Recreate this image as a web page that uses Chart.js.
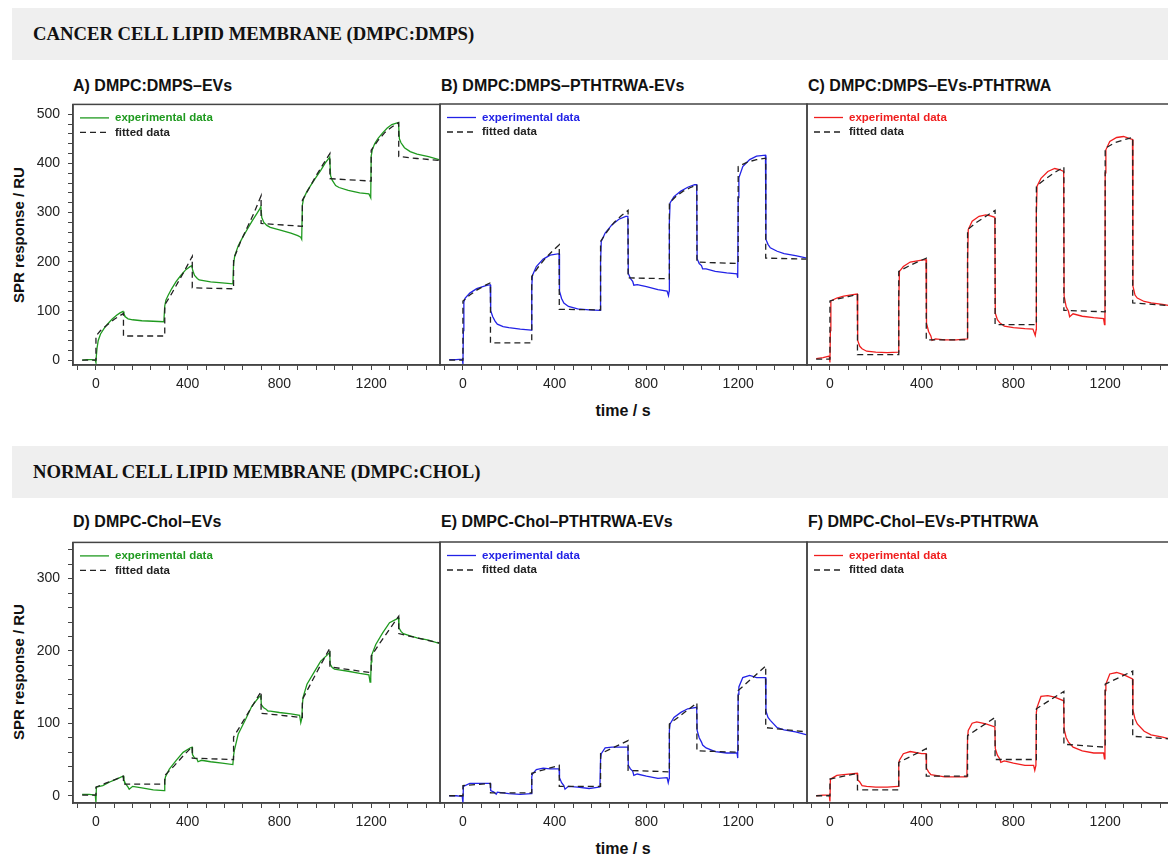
<!DOCTYPE html>
<html>
<head>
<meta charset="utf-8">
<script src="https://cdn.jsdelivr.net/npm/chart.js@4.4.0/dist/chart.umd.min.js"></script>
<style>
  body { margin: 0; width: 1168px; height: 857px; overflow: hidden; background: #fff; position: relative; font-family: Arial, "Liberation Sans", sans-serif; }
  .band { position: absolute; left: 12px; width: 1156px; height: 52px; background: #efefef; }
  .band span { position: absolute; left: 21px; top: 50%; transform: translateY(-50%); font: bold 18.7px "Liberation Serif", "Times New Roman", serif; color: #111; white-space: nowrap; }
  .ptitle { position: absolute; font: bold 16px Arial, "Liberation Sans", sans-serif; color: #111; line-height: 18px; white-space: nowrap; }
  .ytitle { position: absolute; left: 18px; font: bold 15px Arial, "Liberation Sans", sans-serif; color: #111; white-space: nowrap; transform: translate(-50%, -50%) rotate(-90deg); }
  .xtitle { position: absolute; left: 623px; font: bold 16px Arial, "Liberation Sans", sans-serif; color: #111; white-space: nowrap; transform: translate(-50%, -50%); }
  canvas { position: absolute; }
</style>
</head>
<body>
<div class="band" style="top:8px"><span>CANCER CELL LIPID MEMBRANE (DMPC:DMPS)</span></div>
<div class="band" style="top:446px"><span>NORMAL CELL LIPID MEMBRANE (DMPC:CHOL)</span></div>

<div class="ptitle" style="left:73px;top:77px">A) DMPC:DMPS–EVs</div>
<div class="ptitle" style="left:441px;top:77px">B) DMPC:DMPS–PTHTRWA-EVs</div>
<div class="ptitle" style="left:808px;top:77px">C) DMPC:DMPS–EVs-PTHTRWA</div>
<div class="ptitle" style="left:73px;top:513px">D) DMPC-Chol–EVs</div>
<div class="ptitle" style="left:441px;top:513px">E) DMPC-Chol–PTHTRWA-EVs</div>
<div class="ptitle" style="left:808px;top:513px">F) DMPC-Chol–EVs-PTHTRWA</div>

<div class="ytitle" style="top:235px">SPR response / RU</div>
<div class="ytitle" style="top:672px">SPR response / RU</div>
<div class="xtitle" style="top:411px">time / s</div>
<div class="xtitle" style="top:849px">time / s</div>

<canvas id="cA"></canvas>
<canvas id="cB"></canvas>
<canvas id="cC"></canvas>
<canvas id="cD"></canvas>
<canvas id="cE"></canvas>
<canvas id="cF"></canvas>

<script>
// ===== DATA (time / s, SPR response / RU) =====
const X_LABELS = [0, 400, 800, 1200];
const X_MINOR = 80;
const Y_LABELS_TOP = [0, 100, 200, 300, 400, 500];
const Y_LABELS_BOTTOM = [0, 100, 200, 300];
const Y_MINOR = 20;

const expA = [[-60,0],[-40,1],[-20,1],[-3,0],[0,-5],[2,10],[5,25],[10,40],[20,53],[35,64],[50,73],[70,83],[90,91],[105,96],[118,99],[122,94],[128,88],[140,84],[160,82],[200,80],[250,79],[296,78],
  [300,110],[305,122],[315,132],[330,145],[350,160],[370,172],[390,183],[410,190],[418,192],[422,182],[430,172],[442,166],[450,163],[500,159],[550,157],[597,155],
  [600,195],[605,212],[620,232],[640,250],[660,266],[680,282],[700,297],[715,308],[719,312],[723,290],[732,280],[745,274],[760,270],[800,265],[850,258],[880,253],[893,250],[897,246],
  [900,315],[905,328],[920,343],[940,358],[960,372],[980,386],[1000,401],[1015,410],[1019,413],[1023,375],[1030,366],[1045,355],[1060,351],[1100,345],[1150,340],[1190,338],[1195,333],[1198,330],
  [1200,415],[1205,428],[1215,440],[1230,451],[1250,462],[1270,472],[1290,479],[1310,482],[1319,483],[1323,450],[1330,442],[1345,432],[1370,424],[1400,419],[1450,414],[1500,407]];
const fitA = [[-60,0],[0,0],[0,49],[20,60],[50,72],[80,83],[120,95],[120,49],[300,49],[300,112],[330,135],[360,160],[390,185],[420,211],[420,147],[600,145],
  [600,205],[630,240],[660,270],[690,300],[720,334],[720,278],[900,272],[900,325],[930,350],[960,375],[990,398],[1020,420],[1020,369],[1200,364],
  [1200,427],[1230,447],[1260,463],[1290,474],[1320,483],[1320,414],[1400,410],[1500,406]];

const expB = [[-60,1],[-30,1],[-3,2],[0,-8],[2,60],[4,118],[10,126],[30,136],[60,145],[100,151],[119,153],[121,100],[130,88],[140,79],[150,73],[175,68],[200,66],[250,63],[298,61],
  [300,150],[303,172],[320,190],[350,205],[380,213],[419,216],[421,140],[430,125],[440,116],[460,109],[500,104],[550,102],[598,101],
  [600,200],[603,241],[620,258],[650,275],[680,286],[710,292],[719,292],[721,176],[730,166],[740,160],[745,152],[760,153],[800,149],[850,143],[890,140],[896,131],[899,140],
  [900,280],[903,319],[920,332],[950,343],[980,351],[1010,356],[1019,356],[1021,206],[1030,196],[1040,192],[1045,185],[1060,185],[1100,180],[1150,177],[1195,175],[1198,167],
  [1200,330],[1203,370],[1220,393],[1250,407],[1280,414],[1319,416],[1321,245],[1330,235],[1340,228],[1370,221],[1400,216],[1450,212],[1500,207]];
const fitB = [[-60,0],[0,0],[0,120],[30,132],[60,142],[90,150],[120,157],[120,35],[300,35],[300,170],[330,190],[360,207],[390,221],[420,234],[420,103],[600,102],
  [600,241],[630,262],[660,280],[690,293],[720,304],[720,167],[900,165],[900,319],[930,333],[960,343],[990,350],[1020,356],[1020,199],[1200,196],
  [1200,393],[1240,402],[1280,407],[1320,410],[1320,207],[1500,205]];

const expC = [[-60,3],[-30,5],[-3,8],[0,-5],[2,60],[4,120],[30,126],[60,130],[100,133],[119,134],[121,40],[130,28],[140,23],[160,18],[200,16],[250,15],[298,16],
  [300,120],[303,180],[320,190],[350,199],[400,203],[419,204],[421,75],[430,58],[440,49],[445,40],[460,43],[500,41],[550,41],[598,43],
  [600,200],[603,265],[620,282],[650,292],[680,295],[700,293],[719,290],[721,95],[730,82],[740,76],[760,69],[800,66],[850,64],[885,63],[895,50],[899,62],
  [900,300],[903,353],[920,369],[950,383],[980,389],[1000,387],[1019,383],[1021,130],[1030,108],[1040,99],[1045,88],[1060,94],[1100,89],[1150,86],[1193,84],[1197,72],[1199,84],
  [1200,380],[1203,427],[1220,444],[1250,452],[1280,454],[1310,449],[1319,448],[1321,150],[1330,132],[1340,126],[1370,119],[1400,116],[1450,113],[1500,109]];
const fitC = [[-60,2],[0,2],[0,120],[40,125],[80,129],[120,133],[120,11],[300,11],[300,180],[340,190],[380,199],[420,207],[420,41],[600,41],
  [600,265],[640,280],[680,292],[720,304],[720,72],[900,72],[900,353],[940,368],[980,381],[1020,392],[1020,101],[1200,98],
  [1200,430],[1240,441],[1280,447],[1320,452],[1320,116],[1500,110]];

const expD = [[-60,2],[-30,2],[-3,1],[0,-9],[2,12],[30,14],[60,19],[90,23],[118,27],[122,22],[128,17],[140,12],[145,9],[160,13],[200,11],[250,8],[297,7],
  [300,20],[303,26],[320,37],[350,49],[380,60],[410,66],[419,67],[421,57],[430,52],[440,51],[445,47],[460,49],[500,47],[550,45],[597,43],
  [600,55],[603,62],[620,85],[650,104],[680,124],[710,136],[719,138],[721,126],[730,122],[740,120],[750,117],[760,117],[800,115],[850,113],[888,111],[893,101],[898,108],
  [900,125],[903,136],[920,154],[950,170],[980,186],[1010,195],[1019,198],[1021,182],[1030,177],[1040,175],[1060,174],[1100,172],[1150,169],[1190,167],[1195,157],[1198,163],
  [1200,185],[1203,195],[1220,209],[1250,225],[1280,239],[1310,244],[1319,246],[1321,232],[1330,227],[1340,224],[1370,221],[1400,218],[1450,215],[1500,210]];
const fitD = [[-60,1],[0,1],[0,12],[40,17],[80,22],[120,27],[120,16],[300,16],[300,28],[340,41],[380,55],[420,68],[420,52],[600,50],
  [600,81],[640,102],[680,123],[720,144],[720,114],[900,108],[900,133],[940,157],[980,181],[1020,204],[1020,178],[1200,170],
  [1200,193],[1240,212],[1280,230],[1320,248],[1320,224],[1400,218],[1500,211]];

const expE = [[-60,0],[-30,0],[-3,-1],[0,-10],[2,13],[30,17],[60,17],[119,17],[121,7],[135,5],[145,2],[150,5],[200,3],[250,2],[297,3],
  [300,26],[303,30],[320,36],[350,38],[380,37],[419,37],[421,25],[430,18],[440,14],[445,9],[460,13],[500,12],[550,10],[597,12],
  [600,50],[603,58],[620,66],[650,67],[719,67],[721,42],[730,37],[740,34],[745,28],[760,30],[800,27],[850,24],[890,25],[895,18],[899,24],
  [900,90],[903,99],[920,108],[950,115],[980,120],[1019,122],[1021,90],[1030,80],[1040,74],[1045,70],[1060,66],[1100,61],[1150,59],[1195,59],[1198,52],
  [1200,140],[1203,150],[1220,163],[1250,166],[1280,163],[1319,163],[1321,117],[1330,108],[1340,104],[1370,94],[1400,91],[1450,88],[1500,84]];
const fitE = [[-60,0],[0,0],[0,14],[120,17],[120,4],[300,4],[300,31],[420,42],[420,13],[600,13],[600,58],[720,76],[720,35],[900,33],
  [900,99],[1020,128],[1020,62],[1200,60],[1200,145],[1320,179],[1320,94],[1500,88]];

const expF = [[-60,0],[-30,1],[-3,1],[0,-8],[2,23],[30,28],[60,29],[119,31],[121,22],[130,19],[140,14],[160,13],[200,12],[250,12],[297,13],
  [300,45],[303,49],[320,58],[350,61],[400,58],[419,58],[421,38],[430,33],[440,29],[460,28],[500,26],[597,26],
  [600,80],[603,90],[620,100],[640,102],[680,99],[719,95],[721,65],[730,56],[740,51],[745,46],[760,48],[800,45],[850,42],[888,42],[893,35],[898,42],
  [900,115],[903,122],[920,137],[950,138],[980,136],[1019,131],[1021,92],[1030,80],[1040,74],[1060,67],[1100,62],[1150,59],[1193,59],[1197,51],[1199,59],
  [1200,145],[1203,154],[1220,168],[1250,170],[1280,167],[1319,161],[1321,118],[1330,106],[1340,99],[1370,89],[1400,84],[1450,81],[1500,77]];
const fitF = [[-60,0],[0,0],[0,23],[120,31],[120,8],[300,8],[300,46],[420,65],[420,27],[600,27],[600,83],[720,108],[720,50],[900,50],
  [900,120],[1020,144],[1020,71],[1200,67],[1200,154],[1320,172],[1320,82],[1500,78]];

// ===== COLOURS / LAYOUT =====
const GREEN = '#1f9a1f', BLUE = '#2222e6', RED = '#f01e1e', DARK = '#222';
const PLOT_W = 367, PLOT_H = 261, PAD_TOP = 16, X_AXIS_H = 32, Y_AXIS_W = 73;

function tickList(min, max, step) {
  const out = [];
  for (let v = min; v <= max; v += step) out.push({ value: v });
  return out;
}

const framePlugin = {
  id: 'frame',
  afterDraw(chart) {
    const a = chart.chartArea, ctx = chart.ctx;
    ctx.save();
    ctx.strokeStyle = '#444';
    ctx.lineWidth = 1.5;
    ctx.setLineDash([]);
    ctx.strokeRect(a.left, a.top, a.right - a.left, a.bottom - a.top);
    // legend
    const items = chart.options.plugins.inLegend.items;
    items.forEach((it, i) => {
      const y = a.top + 13.5 + i * 14.5;
      ctx.beginPath();
      ctx.strokeStyle = it.color;
      ctx.lineWidth = 1.3;
      ctx.setLineDash(it.dash);
      ctx.moveTo(a.left + 7, y);
      ctx.lineTo(a.left + 36, y);
      ctx.stroke();
      ctx.setLineDash([]);
      ctx.fillStyle = it.textColor;
      ctx.font = 'bold 11.5px Arial, "Liberation Sans", sans-serif';
      ctx.textBaseline = 'middle';
      ctx.fillText(it.text, a.left + 42, y);
    });
    ctx.restore();
  }
};

function toXY(arr) { return arr.map(p => ({ x: p[0], y: p[1] })); }

function makePanel(id, plotLeft, plotTop, exp, fit, color, yMax, yLabels, showY) {
  const cv = document.getElementById(id);
  const padL = showY ? 0 : 2;
  const leftW = showY ? Y_AXIS_W : 0;
  cv.width = leftW + padL + PLOT_W + 2;
  cv.height = PAD_TOP + PLOT_H + X_AXIS_H;
  cv.style.left = (plotLeft - leftW - padL) + 'px';
  cv.style.top = (plotTop - PAD_TOP) + 'px';

  const yTop = yLabels[yLabels.length - 1] === 500 ? 500 : 340;

  new Chart(cv, {
    type: 'line',
    data: {
      datasets: [
        { label: 'experimental data', data: toXY(exp), borderColor: color, borderWidth: 1.3, pointRadius: 0, tension: 0, order: 2 },
        { label: 'fitted data', data: toXY(fit), borderColor: DARK, borderWidth: 1.3, borderDash: [6, 4], pointRadius: 0, tension: 0, order: 1 }
      ]
    },
    options: {
      responsive: false,
      animation: false,
      events: [],
      layout: { padding: { left: padL, right: 2, top: PAD_TOP, bottom: 0 } },
      plugins: {
        legend: { display: false },
        tooltip: { enabled: false },
        inLegend: {
          items: [
            { text: 'experimental data', color: color, textColor: color, dash: [] },
            { text: 'fitted data', color: DARK, textColor: '#222', dash: [6, 4] }
          ]
        }
      },
      scales: {
        x: {
          type: 'linear', min: -100, max: 1500,
          afterBuildTicks: s => { s.ticks = tickList(-80, 1440, X_MINOR); },
          afterFit: s => { s.height = X_AXIS_H; },
          ticks: {
            autoSkip: false, maxRotation: 0, padding: 6,
            color: '#222', font: { family: 'Arial, "Liberation Sans", sans-serif', size: 14 },
            callback: v => X_LABELS.includes(v) ? String(v) : ''
          },
          grid: { drawOnChartArea: false, drawTicks: true, tickLength: 5, color: '#444', lineWidth: 1 },
          border: { display: true, color: '#444', width: 1.5 }
        },
        y: {
          type: 'linear', min: -10, max: yMax, display: showY,
          afterBuildTicks: s => { s.ticks = tickList(0, yTop, Y_MINOR); },
          afterFit: s => { s.width = showY ? Y_AXIS_W : 0; },
          ticks: {
            autoSkip: false, padding: 8,
            color: '#222', font: { family: 'Arial, "Liberation Sans", sans-serif', size: 14 },
            callback: v => yLabels.includes(v) ? String(v) : ''
          },
          grid: { drawOnChartArea: false, drawTicks: true, tickLength: 5, color: '#444', lineWidth: 1 },
          border: { display: true, color: '#444', width: 1.5 }
        }
      }
    },
    plugins: [framePlugin]
  });
}

makePanel('cA', 73, 104, expA, fitA, GREEN, 520, Y_LABELS_TOP, true);
makePanel('cB', 440, 104, expB, fitB, BLUE, 520, Y_LABELS_TOP, false);
makePanel('cC', 807, 104, expC, fitC, RED, 520, Y_LABELS_TOP, false);
makePanel('cD', 73, 542, expD, fitD, GREEN, 350, Y_LABELS_BOTTOM, true);
makePanel('cE', 440, 542, expE, fitE, BLUE, 350, Y_LABELS_BOTTOM, false);
makePanel('cF', 807, 542, expF, fitF, RED, 350, Y_LABELS_BOTTOM, false);
</script>
</body>
</html>
